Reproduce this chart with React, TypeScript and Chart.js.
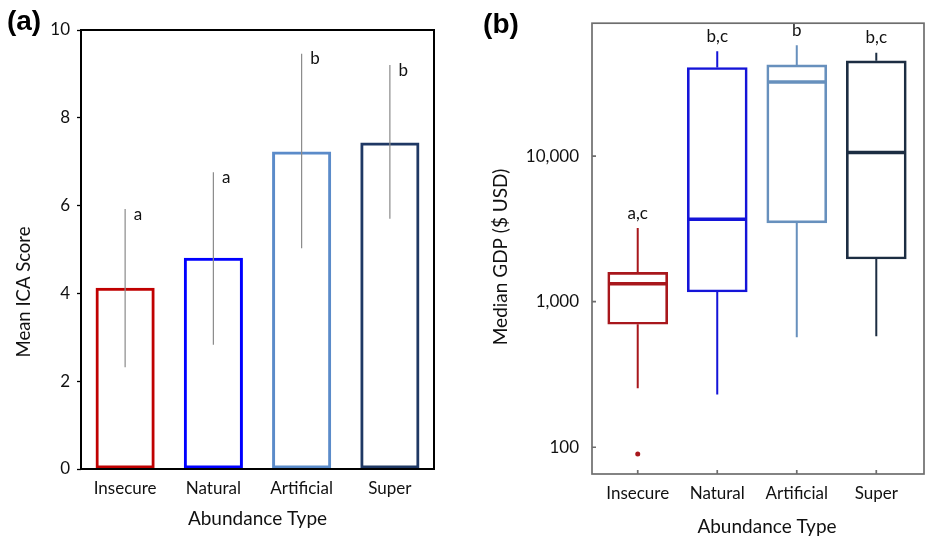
import React, { useEffect, useRef } from "react";
import { Chart, registerables } from "chart.js";

Chart.register(...registerables);

// ---------- shared ----------
const categories = ["Insecure", "Natural", "Artificial", "Super"];

// ---------- panel (a): Mean ICA score ----------
const meanScores = [4.13, 4.81, 7.23, 7.44];
const scoreLow = [2.32, 2.83, 5.03, 5.7];
const scoreHigh = [5.92, 6.76, 9.46, 9.2];
const scoreLetters = ["a", "a", "b", "b"];
const barColors = ["#c00000", "#0000ff", "#5b8bc9", "#1f3864"];

// ---------- panel (b): Median GDP box plot ----------
const gdpMin = [254, 230, 569, 578];
const gdpQ1 = [700, 1166, 3480, 1967];
const gdpMedian = [1330, 3690, 32400, 10600];
const gdpQ3 = [1592, 40700, 42400, 45200];
const gdpMax = [3205, 52700, 57900, 51300];
const gdpOutlierCategory = [0];
const gdpOutlierValue = [90];
const gdpLetters = ["a,c", "b,c", "b", "b,c"];
const gdpTicks = [100, 1000, 10000];
const boxColors = ["#a8171c", "#1414d8", "#6790bd", "#1c2d42"];

const FONT = "Lato";
const TXT = "#111";
const TITLE_FONT = `19px ${FONT}`;

function drawText(ctx: CanvasRenderingContext2D, text: string, x: number, y: number, opts: any = {}) {
  ctx.save();
  ctx.translate(x, y);
  if (opts.rot) ctx.rotate(opts.rot);
  ctx.font = opts.font || `17px ${FONT}`;
  ctx.fillStyle = opts.color || TXT;
  ctx.textAlign = opts.align || "center";
  ctx.textBaseline = "middle";
  ctx.fillText(text, 0, 0);
  ctx.restore();
}

const leftDecor = {
  id: "leftDecor",
  afterDatasetsDraw(chart: any) {
    const { ctx, chartArea: a, scales } = chart;
    const x = scales.x;
    const y = scales.y;
    ctx.save();
    ctx.strokeStyle = "#8a8a8a";
    ctx.lineWidth = 1.2;
    categories.forEach((_, i) => {
      const px = x.getPixelForValue(i);
      const top = y.getPixelForValue(scoreHigh[i]);
      ctx.beginPath();
      ctx.moveTo(px, y.getPixelForValue(scoreLow[i]));
      ctx.lineTo(px, top);
      ctx.stroke();
      drawText(ctx, scoreLetters[i], px + 8.5, top + 5, { align: "left" });
    });
    ctx.strokeStyle = "#000";
    ctx.lineWidth = 2;
    ctx.strokeRect(a.left, a.top, a.right - a.left, a.bottom - a.top);
    drawText(ctx, "Mean ICA Score", 24.5, 292, { rot: -Math.PI / 2, font: `18.5px ${FONT}` });
    drawText(ctx, "Abundance Type", (a.left + a.right) / 2, 519, { font: TITLE_FONT });
    drawText(ctx, "(a)", 24, 22, { font: `bold 28px "Liberation Sans"`, color: "#000" });
    ctx.restore();
  },
};

const rightDecor = {
  id: "rightDecor",
  afterDatasetsDraw(chart: any) {
    const { ctx, chartArea: a, scales } = chart;
    const x = scales.x;
    const y = scales.y;
    ctx.save();
    categories.forEach((_, i) => {
      const px = x.getPixelForValue(i + 1);
      ctx.strokeStyle = boxColors[i];
      ctx.lineWidth = 2;
      ctx.beginPath();
      ctx.moveTo(px, y.getPixelForValue(gdpQ3[i]));
      ctx.lineTo(px, y.getPixelForValue(gdpMax[i]));
      ctx.moveTo(px, y.getPixelForValue(gdpQ1[i]));
      ctx.lineTo(px, y.getPixelForValue(gdpMin[i]));
      ctx.stroke();
      ctx.lineWidth = 3.5;
      ctx.beginPath();
      const my = y.getPixelForValue(gdpMedian[i]);
      ctx.moveTo(px - 29, my);
      ctx.lineTo(px + 29, my);
      ctx.stroke();
      drawText(ctx, gdpLetters[i], px, y.getPixelForValue(gdpMax[i]) - 15);
    });
    // frame and inward ticks
    ctx.strokeStyle = "#6e6e6e";
    ctx.lineWidth = 1.7;
    ctx.strokeRect(a.left, a.top, a.right - a.left, a.bottom - a.top);
    ctx.beginPath();
    gdpTicks.forEach((v) => {
      const py = y.getPixelForValue(v);
      ctx.moveTo(a.left, py);
      ctx.lineTo(a.left + 4, py);
    });
    categories.forEach((_, i) => {
      const px = x.getPixelForValue(i + 1);
      ctx.moveTo(px, a.bottom);
      ctx.lineTo(px, a.bottom - 4);
    });
    ctx.stroke();
    drawText(ctx, "Median GDP ($ USD)", 500.7 - 464, 257, { rot: -Math.PI / 2, font: TITLE_FONT });
    drawText(ctx, "Abundance Type", 767 - 464, 527, { font: TITLE_FONT });
    drawText(ctx, "(b)", 501 - 464, 25.5, { font: `bold 28px "Liberation Sans"`, color: "#000" });
    ctx.restore();
  },
};

function LeftChart() {
  const ref = useRef<HTMLCanvasElement>(null);
  useEffect(() => {
    const chart = new Chart(ref.current!, {
      type: "bar",
      data: {
        labels: categories,
        datasets: [
          {
            data: meanScores,
            backgroundColor: "rgba(255,255,255,0)",
            borderColor: barColors,
            borderWidth: 3,
            borderSkipped: false,
            barPercentage: 0.67,
            categoryPercentage: 1,
          },
        ],
      },
      options: {
        responsive: false,
        animation: false,
        layout: { padding: { top: 30, right: 30, left: 0, bottom: 0 } },
        plugins: { legend: { display: false }, tooltip: { enabled: false } },
        scales: {
          x: {
            grid: { display: false, drawTicks: false },
            border: { display: false },
            ticks: { color: TXT, font: { family: FONT, size: 17 }, padding: 9.5 },
            afterFit: (s: any) => {
              s.height = 68;
            },
          },
          y: {
            min: 0,
            max: 10,
            ticks: { stepSize: 2, color: TXT, font: { family: FONT, size: 17 }, padding: 7 },
            grid: { display: true, drawOnChartArea: false, tickLength: 4, color: "#000", tickWidth: 1.3 },
            border: { display: false },
            afterFit: (s: any) => {
              s.width = 81;
            },
          },
        },
      },
      plugins: [leftDecor],
    } as any);
    return () => chart.destroy();
  }, []);
  return <canvas ref={ref} width={464} height={537} style={{ position: "absolute", left: 0, top: 0 }} />;
}

function RightChart() {
  const ref = useRef<HTMLCanvasElement>(null);
  useEffect(() => {
    const chart = new Chart(ref.current!, {
      type: "bar",
      data: {
        datasets: [
          {
            data: categories.map((_, i) => ({ x: i + 1, y: [gdpQ1[i], gdpQ3[i]] })),
            backgroundColor: "rgba(255,255,255,0)",
            borderColor: boxColors,
            borderWidth: 2,
            borderSkipped: false,
            barThickness: 60,
            grouped: false,
          },
          {
            type: "scatter",
            data: gdpOutlierCategory.map((c, i) => ({ x: c + 1, y: gdpOutlierValue[i] })),
            pointRadius: 2.5,
            pointBackgroundColor: gdpOutlierCategory.map((c) => boxColors[c]),
            pointBorderWidth: 0,
          },
        ],
      },
      options: {
        responsive: false,
        animation: false,
        layout: { padding: { top: 23, right: 2, left: 0, bottom: 0 } },
        plugins: { legend: { display: false }, tooltip: { enabled: false } },
        scales: {
          x: {
            type: "linear",
            offset: false,
            min: 0.425,
            max: 4.6,
            grid: { display: false, drawTicks: false },
            border: { display: false },
            afterBuildTicks: (s: any) => {
              s.ticks = categories.map((_, i) => ({ value: i + 1 }));
            },
            ticks: {
              color: TXT,
              font: { family: FONT, size: 17 },
              padding: 9.5,
              callback: (v: any) => categories[Number(v) - 1] ?? "",
            },
            afterFit: (s: any) => {
              s.height = 63;
            },
          },
          y: {
            type: "logarithmic",
            min: 65.5,
            max: 82000,
            grid: { display: false, drawTicks: false },
            border: { display: false },
            afterBuildTicks: (s: any) => {
              s.ticks = gdpTicks.map((v) => ({ value: v }));
            },
            ticks: {
              color: TXT,
              font: { family: FONT, size: 17 },
              padding: 13,
              callback: (v: any) => Number(v).toLocaleString("en-US"),
            },
            afterFit: (s: any) => {
              s.width = 128;
            },
          },
        },
      },
      plugins: [rightDecor],
    } as any);
    return () => chart.destroy();
  }, []);
  return <canvas ref={ref} width={464} height={537} style={{ position: "absolute", left: 464, top: 0 }} />;
}

export default function App() {
  return (
    <div style={{ position: "fixed", left: 0, top: 0, width: 928, height: 537, background: "#fff", overflow: "hidden" }}>
      <LeftChart />
      <RightChart />
    </div>
  );
}
